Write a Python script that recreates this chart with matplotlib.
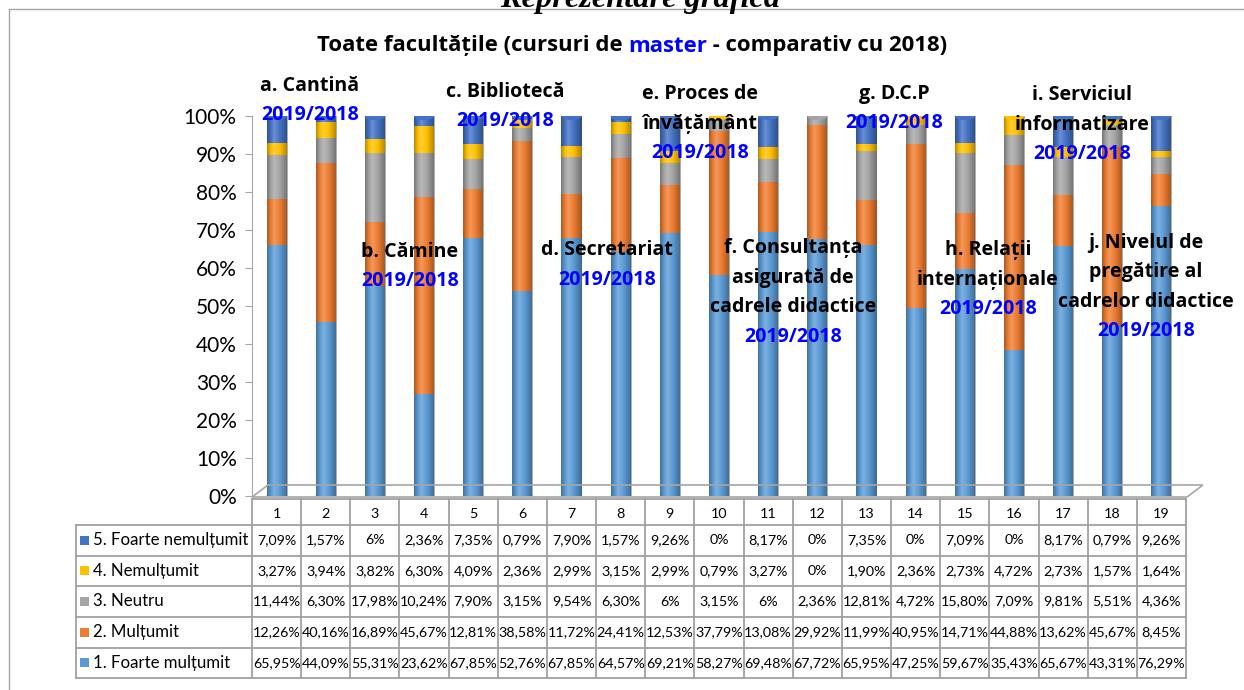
import matplotlib
matplotlib.use("Agg")
import matplotlib.pyplot as plt
from matplotlib.patches import Polygon, Rectangle, Ellipse
from matplotlib.lines import Line2D
import numpy as np

W, H = 1244, 690

columns = [str(i) for i in range(1, 20)]
series_names = ["5. Foarte nemulțumit", "4. Nemulțumit", "3. Neutru",
                "2. Mulțumit", "1. Foarte mulțumit"]
foarte_nemultumit = [7.09, 1.57, 6, 2.36, 7.35, 0.79, 7.90, 1.57, 9.26, 0,
                     8.17, 0, 7.35, 0, 7.09, 0, 8.17, 0.79, 9.26]
nemultumit = [3.27, 3.94, 3.82, 6.30, 4.09, 2.36, 2.99, 3.15, 2.99, 0.79,
              3.27, 0, 1.90, 2.36, 2.73, 4.72, 2.73, 1.57, 1.64]
neutru = [11.44, 6.30, 17.98, 10.24, 7.90, 3.15, 9.54, 6.30, 6, 3.15,
          6, 2.36, 12.81, 4.72, 15.80, 7.09, 9.81, 5.51, 4.36]
multumit = [12.26, 40.16, 16.89, 45.67, 12.81, 38.58, 11.72, 24.41, 12.53, 37.79,
            13.08, 29.92, 11.99, 40.95, 14.71, 44.88, 13.62, 45.67, 8.45]
foarte_multumit = [65.95, 44.09, 55.31, 23.62, 67.85, 52.76, 67.85, 64.57, 69.21, 58.27,
                   69.48, 67.72, 65.95, 47.25, 59.67, 35.43, 65.67, 43.31, 76.29]
colors = ["#4472C4", "#FFC000", "#A5A5A5", "#ED7D31", "#5B9BD5"]

labels = [
    ["a. Cantină"], ["b. Cămine"], ["c. Bibliotecă"], ["d. Secretariat"],
    ["e. Proces de", "învățământ"], ["f. Consultanța", "asigurată de", "cadrele didactice"],
    ["g. D.C.P"], ["h. Relații", "internaționale"], ["i. Serviciul", "informatizare"],
    ["j. Nivelul de", "pregătire al", "cadrelor didactice"],
]
label_pos = [(310, 86), (410, 252), (505, 92), (607, 250), (700, 94),
             (793, 248), (894, 94), (988, 250), (1082, 95), (1146, 243)]
year_label = "2019/2018"

plt.rcParams["font.family"] = ["Lato", "DejaVu Sans"]
BOLD = ["Open Sans", "DejaVu Sans"]


def fx(x):
    return x / W


def fy(y):
    return 1 - y / H


fig = plt.figure(figsize=(W / 100, H / 100), dpi=100)
fig.canvas.draw()
renderer = fig.canvas.get_renderer()


def text_width(s, size, **kw):
    t = fig.text(0, 0, s, fontsize=size, **kw)
    w = t.get_window_extent(renderer).width
    t.remove()
    return w


def fit_size(s, target, **kw):
    return 10 * target / text_width(s, 10, **kw)


ax = fig.add_axes([fx(252), fy(496), fx(1186) - fx(252), fy(116) - fy(496)])
ax.set_xlim(0.5, 19.5)
ax.set_ylim(0, 100)
ax.patch.set_alpha(0)

# 100% stacked columns
x = np.arange(1, 20)
stack = np.array([foarte_multumit, multumit, neutru, nemultumit, foarte_nemultumit])
shares = stack / stack.sum(axis=0) * 100
stack_cols = colors[::-1]
bw = 0.41
bottom = np.zeros(19)
for vals, c in zip(shares, stack_cols):
    ax.bar(x, vals, bottom=bottom, width=bw, color=c, zorder=3)
    bottom += vals

# cylinder shading
t = np.linspace(0, 1, 64)
f = np.where(t < 0.35, -0.28 + 0.5 * t / 0.35, 0.22 - 0.55 * (t - 0.35) / 0.65)
rgba = np.zeros((1, 64, 4))
rgba[0, :, :3] = np.where(f[:, None] > 0, 1.0, 0.0)
rgba[0, :, 3] = np.abs(f)
for xi in x:
    ax.imshow(rgba, extent=(xi - bw / 2, xi + bw / 2, 0, 100), aspect="auto",
              zorder=4, interpolation="bilinear")
    top_col = stack_cols[max(k for k in range(5) if shares[k][xi - 1] > 0)]
    ax.add_patch(Ellipse((xi, 100), bw, 2.2, facecolor=top_col, edgecolor="none",
                         zorder=5))
    ax.add_patch(Ellipse((xi, 0), bw, 2.2, facecolor=stack_cols[0], edgecolor="none",
                         zorder=2))
ax.set_xlim(0.5, 19.5)
ax.set_ylim(0, 100)

for s in ["top", "right", "bottom"]:
    ax.spines[s].set_visible(False)
ax.spines["left"].set_color("#A6A6A6")
ax.set_xticks([])
ax.set_yticks(np.arange(0, 101, 10))
ax.set_yticklabels([f"{v}%" for v in range(0, 101, 10)],
                   fontsize=fit_size("100%", 53))
ax.tick_params(axis="y", color="#A6A6A6", length=5, pad=6)

# 3D floor
floor = Polygon([(fx(252), fy(497)), (fx(1187), fy(497)), (fx(1203), fy(485)), (fx(268), fy(485))],
                closed=True, transform=fig.transFigure, facecolor="none",
                edgecolor="#A6A6A6", lw=1.2, zorder=1)
fig.patches.append(floor)

# outer frame
fig.add_artist(Line2D([fx(9), fx(1244)], [fy(9), fy(9)], color="#A6A6A6", lw=1))
fig.add_artist(Line2D([fx(9), fx(9)], [fy(9), fy(690)], color="#A6A6A6", lw=1))

# heading of the page, cut at the top edge as in the source
hsize = fit_size("Reprezentare grafică", 280, fontweight="bold", style="italic",
                 family="Liberation Serif")
fig.text(fx(640), fy(0), "Reprezentare grafică", ha="center", va="center",
         fontsize=hsize, fontweight="bold", style="italic", family="Liberation Serif")

# title with blue word
parts = [("Toate facultățile (cursuri de ", "black"), ("master", "#0000FF"),
         (" - comparativ cu 2018)", "black")]
full = "".join(p for p, _ in parts)
tsize = fit_size(full, 632, fontweight="bold", family=BOLD)
widths = [text_width(p, tsize, fontweight="bold", family=BOLD) for p, _ in parts]
cur = 632 - sum(widths) / 2
for (p, c), w in zip(parts, widths):
    fig.text(fx(cur), fy(46), p, fontsize=tsize, fontweight="bold", color=c,
             ha="left", va="center", family=BOLD)
    cur += w

# category annotations
asize = fit_size("cadrelor didactice", 176, fontweight="bold", family=BOLD)
for lines, (cx, cy) in zip(labels, label_pos):
    for k, line in enumerate(lines):
        fig.text(fx(cx), fy(cy + 29.5 * k), line, ha="center", va="center",
                 fontsize=asize, fontweight="bold", color="black", family=BOLD)
    fig.text(fx(cx), fy(cy + 29.5 * len(lines)), year_label, ha="center", va="center",
             fontsize=asize, fontweight="bold", color="#0000FF", family=BOLD)

# data table
col_left = 252
col_w = (1186 - 252) / 19
tbl_left = 76
row_edges = [499, 525, 555.5, 586, 617, 647.5, 678]
gc = "#A0A0A0"
fig.add_artist(Line2D([fx(col_left), fx(1186)], [fy(row_edges[0])] * 2, color=gc, lw=1.3))
for r in row_edges[1:]:
    fig.add_artist(Line2D([fx(tbl_left), fx(1186)], [fy(r)] * 2, color=gc, lw=1.3))
fig.add_artist(Line2D([fx(tbl_left)] * 2, [fy(row_edges[1]), fy(row_edges[-1])], color=gc, lw=1.3))
for j in range(20):
    xx = col_left + j * col_w
    fig.add_artist(Line2D([fx(xx)] * 2, [fy(row_edges[0]), fy(row_edges[-1])], color=gc, lw=1.3))

csize = fit_size("65,95%", 48)
for j, c in enumerate(columns):
    fig.text(fx(col_left + (j + 0.5) * col_w), fy((row_edges[0] + row_edges[1]) / 2 + 2), c,
             ha="center", va="center", fontsize=csize)

nsize = fit_size("5. Foarte nemulțumit", 155)
rows = [foarte_nemultumit, nemultumit, neutru, multumit, foarte_multumit]
for i, (name, vals, c) in enumerate(zip(series_names, rows, colors)):
    yc = (row_edges[i + 1] + row_edges[i + 2]) / 2
    fig.patches.append(Rectangle((fx(80), fy(yc + 4.5)), 9 / W, 9 / H, transform=fig.transFigure,
                                 facecolor=c, edgecolor="none"))
    fig.text(fx(93), fy(yc), name, ha="left", va="center", fontsize=nsize)
    for j, v in enumerate(vals):
        s = f"{v:.2f}".replace(".", ",") + "%"
        if s.endswith(",00%"):
            s = s[:-4] + "%"
        fig.text(fx(col_left + (j + 0.5) * col_w), fy(yc), s, ha="center", va="center",
                 fontsize=csize)

fig.savefig("out.png", dpi=100)
